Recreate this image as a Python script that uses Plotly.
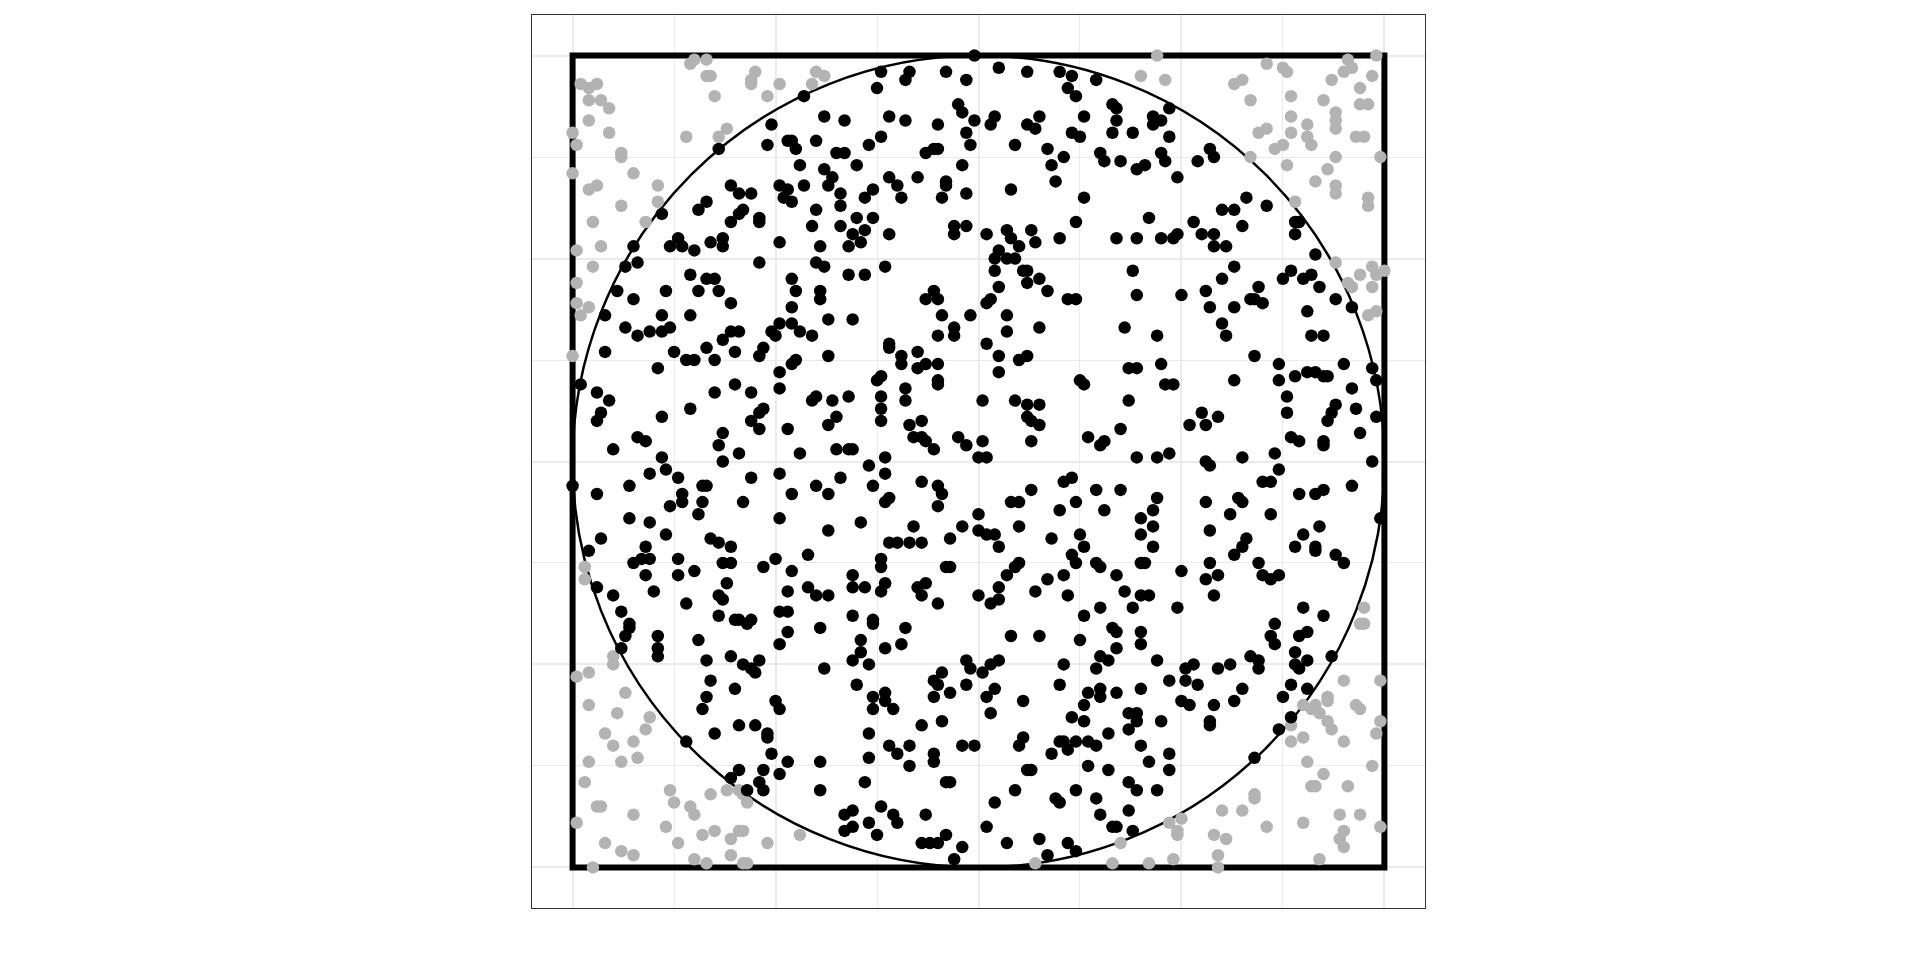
import plotly.graph_objects as go

# Monte Carlo points (data units, square spans -1..1)
inside_points = [
    # upper-left block
    (-0.43,0.90),(-0.38,0.85),(-0.51,0.83),(-0.52,0.78),(-0.47,0.79),(-0.46,0.79),(-0.45,0.77),(-0.40,0.79),
    (-0.35,0.76),(-0.64,0.77),(-0.44,0.73),(-0.38,0.72),(-0.36,0.70),(-0.43,0.68),(-0.37,0.68),(-0.49,0.68),
    (-0.47,0.67),(-0.48,0.65),(-0.46,0.64),(-0.61,0.68),(-0.59,0.66),(-0.56,0.66),(-0.67,0.64),(-0.69,0.62),
    (-0.58,0.62),(-0.59,0.61),(-0.54,0.60),(-0.54,0.59),(-0.61,0.59),(-0.40,0.62),(-0.41,0.58),(-0.78,0.61),
    (-0.74,0.55),(-0.73,0.53),(-0.70,0.52),(-0.66,0.54),(-0.63,0.55),(-0.63,0.53),(-0.76,0.53),(-0.49,0.54),
    (-0.39,0.53),(-0.85,0.53),(-0.87,0.48),(-0.84,0.49),(-0.54,0.49),(-0.40,0.49),(-0.38,0.48),(-0.71,0.46),
    (-0.67,0.45),(-0.65,0.45),(-0.64,0.42),(-0.69,0.42),(-0.46,0.45),(-0.45,0.42),(-0.39,0.42),(-0.39,0.40),
    (-0.89,0.42),(-0.85,0.40),(-0.77,0.42),(-0.61,0.39),(-0.46,0.38),(-0.92,0.36),(-0.78,0.36),(-0.71,0.36),
    (-0.37,0.35),
    # upper-middle block
    (-0.24,0.96),(-0.17,0.96),(-0.18,0.94),(-0.25,0.92),(-0.08,0.96),(-0.03,0.94),(-0.01,1.00),(0.05,0.97),
    (0.12,0.96),(0.20,0.96),(0.23,0.95),(0.22,0.92),(0.24,0.90),(0.29,0.94),(0.33,0.88),(0.34,0.87),
    (0.34,0.84),(0.33,0.81),(-0.33,0.84),(-0.22,0.85),(-0.18,0.84),(-0.10,0.83),(-0.05,0.88),(-0.04,0.86),
    (-0.01,0.84),(0.04,0.85),(0.03,0.83),(-0.03,0.81),(0.12,0.83),(0.14,0.82),(0.15,0.85),(-0.27,0.78),
    (-0.24,0.80),(-0.33,0.76),(-0.13,0.76),(-0.11,0.77),(-0.10,0.77),(-0.02,0.78),(0.09,0.78),(0.17,0.77),
    (0.21,0.75),(0.23,0.81),(0.25,0.80),(0.26,0.85),(0.30,0.76),(0.31,0.74),(0.35,0.74),(-0.30,0.73),
    (-0.04,0.73),(0.18,0.73),(0.19,0.69),(-0.22,0.70),(-0.20,0.68),(-0.19,0.65),(-0.15,0.70),(-0.08,0.69),
    (-0.08,0.68),(-0.09,0.65),(-0.03,0.66),(0.08,0.67),(0.26,0.65),(-0.34,0.66),(-0.34,0.63),(-0.28,0.65),
    (-0.26,0.67),(-0.30,0.60),(-0.26,0.60),(-0.28,0.57),(-0.31,0.56),(-0.32,0.53),(-0.29,0.54),(-0.34,0.58),
    (-0.22,0.56),(-0.06,0.58),(-0.06,0.56),(-0.03,0.58),(0.02,0.56),(0.07,0.57),(0.08,0.55),(0.10,0.53),
    (0.13,0.57),(0.14,0.54),(0.20,0.55),(0.24,0.59),(0.34,0.55),(0.05,0.52),(0.04,0.50),(0.07,0.50),
    (0.09,0.50),(0.11,0.47),(0.12,0.47),(0.04,0.47),(0.15,0.45),(0.05,0.43),(0.12,0.44),(0.17,0.42),
    (0.22,0.40),(0.24,0.40),(-0.23,0.48),(-0.32,0.46),(-0.28,0.46),(-0.13,0.40),(-0.11,0.42),(-0.10,0.40),
    (0.02,0.39),(0.03,0.40),(-0.02,0.36),(-0.09,0.36),(0.07,0.36),(-0.31,0.35),
    # upper-right block
    (0.47,0.87),(0.43,0.85),(0.45,0.84),(0.43,0.83),(0.38,0.81),(0.47,0.80),(0.57,0.77),(0.58,0.75),
    (0.54,0.74),(0.45,0.76),(0.46,0.74),(0.39,0.72),(0.41,0.73),(0.49,0.70),(0.66,0.65),(0.71,0.63),
    (0.60,0.62),(0.63,0.62),(0.65,0.58),(0.53,0.59),(0.42,0.60),(0.78,0.59),(0.79,0.59),(0.78,0.56),
    (0.39,0.55),(0.45,0.55),(0.48,0.55),(0.49,0.56),(0.55,0.56),(0.58,0.56),(0.58,0.53),(0.61,0.53),
    (0.83,0.51),(0.63,0.48),(0.60,0.45),(0.38,0.47),(0.39,0.41),(0.50,0.41),(0.56,0.42),(0.57,0.38),
    (0.63,0.38),(0.67,0.40),(0.68,0.40),(0.70,0.39),(0.69,0.43),(0.75,0.45),(0.77,0.47),(0.80,0.45),
    (0.82,0.46),(0.84,0.43),(0.88,0.40),(0.92,0.38),(0.81,0.37),
    # middle-left block
    (-0.87,0.33),(-0.84,0.31),(-0.81,0.32),(-0.78,0.32),(-0.76,0.33),(-0.63,0.30),(-0.61,0.32),(-0.59,0.32),
    (-0.51,0.32),(-0.50,0.31),(-0.49,0.34),(-0.46,0.34),(-0.44,0.32),(-0.41,0.31),(-0.92,0.27),(-0.75,0.27),
    (-0.72,0.25),(-0.70,0.25),(-0.67,0.28),(-0.65,0.25),(-0.60,0.27),(-0.54,0.26),(-0.53,0.28),(-0.79,0.23),
    (-0.37,0.26),(-0.46,0.24),(-0.45,0.25),(-0.49,0.22),(-0.98,0.19),(-0.94,0.17),(-0.91,0.15),(-0.93,0.12),
    (-0.94,0.10),(-0.78,0.11),(-0.71,0.13),(-0.65,0.17),(-0.60,0.19),(-0.56,0.17),(-0.54,0.12),(-0.53,0.13),
    (-0.56,0.10),(-0.54,0.08),(-0.49,0.18),(-0.47,0.08),(-0.41,0.15),(-0.40,0.16),(-0.36,0.15),(-0.35,0.11),
    (-0.37,0.09),(-0.44,0.02),(-0.35,0.03),(-0.84,0.06),(-0.82,0.05),(-0.90,0.03),(-0.63,0.07),(-0.64,0.04),
    (-0.63,0.00),(-0.59,0.02),(-0.78,0.01),(-0.77,-0.02),(-0.74,-0.04),(-0.81,-0.03),(-0.86,-0.06),(-1.00,-0.06),
    (-0.94,-0.08),(-0.68,-0.06),(-0.67,-0.06),(-0.73,-0.08),(-0.73,-0.10),(-0.68,-0.10),(-0.76,-0.11),(-0.58,-0.10),
    (-0.56,-0.04),(-0.49,-0.03),(-0.46,-0.08),(-0.40,-0.06),(-0.37,-0.08),(-0.34,-0.04),(-0.86,-0.14),(-0.81,-0.15),
    (-0.69,-0.13),(-0.49,-0.14),(-0.37,-0.17),(-0.93,-0.19),(-0.77,-0.18),(-0.82,-0.21),(-0.66,-0.19),(-0.64,-0.20),
    (-0.61,-0.21),(-0.96,-0.22),(-0.85,-0.25),(-0.83,-0.24),(-0.81,-0.24),(-0.74,-0.24),(-0.63,-0.25),(-0.61,-0.25),
    (-0.53,-0.26),(-0.50,-0.24),(-0.42,-0.23),(-0.46,-0.27),(-0.74,-0.28),(-0.70,-0.27),(-0.82,-0.28),(-0.62,-0.30),
    (-0.94,-0.31),(-0.80,-0.32),(-0.47,-0.32),(-0.42,-0.31),(-0.40,-0.33),(-0.37,-0.33),(-0.90,-0.33),(-0.64,-0.33),
    (-0.63,-0.34),
    # centre block
    (0.07,0.32),(0.15,0.33),(-0.06,0.33),(-0.06,0.31),(-0.10,0.31),(-0.22,0.29),(-0.22,0.28),(-0.19,0.26),
    (-0.19,0.24),(-0.15,0.27),(-0.13,0.24),(-0.15,0.23),(-0.10,0.24),(0.02,0.29),(0.05,0.26),(0.10,0.25),
    (0.12,0.26),(0.05,0.22),(-0.25,0.20),(-0.24,0.21),(-0.10,0.20),(-0.10,0.19),(0.25,0.20),(0.26,0.19),
    (-0.32,0.16),(-0.24,0.16),(-0.24,0.13),(-0.18,0.18),(-0.18,0.15),(-0.24,0.10),(-0.17,0.09),(-0.14,0.10),
    (-0.16,0.06),(-0.14,0.06),(-0.13,0.05),(-0.11,0.03),(-0.05,0.06),(-0.03,0.04),(0.01,0.15),(0.09,0.15),
    (0.12,0.14),(0.15,0.14),(0.12,0.11),(0.13,0.10),(0.15,0.09),(0.01,0.05),(0.00,0.01),(0.02,0.01),
    (0.13,0.05),(0.27,0.06),(0.30,0.04),(0.31,0.05),(0.35,0.08),(-0.32,0.03),(-0.31,0.03),(-0.23,0.01),
    (-0.27,-0.01),(-0.23,-0.03),(-0.26,-0.06),(-0.14,-0.05),(-0.10,-0.06),(-0.09,-0.08),(-0.23,-0.10),(-0.22,-0.09),
    (-0.10,-0.11),(-0.29,-0.15),(-0.16,-0.16),(-0.04,-0.16),(0.00,-0.13),(0.00,-0.17),(0.02,-0.18),(0.04,-0.18),
    (-0.07,-0.19),(0.05,-0.21),(-0.22,-0.20),(-0.20,-0.20),(-0.17,-0.20),(-0.14,-0.20),(0.08,-0.10),(0.10,-0.10),
    (0.13,-0.07),(0.10,-0.16),(0.20,-0.12),(0.21,-0.05),(0.23,-0.04),(0.24,-0.10),(0.29,-0.07),(0.31,-0.12),
    (0.35,-0.07),(0.18,-0.19),(0.25,-0.18),(0.26,-0.21),(0.23,-0.23),(0.24,-0.25),(0.10,-0.25),(0.09,-0.26),
    (0.07,-0.28),(-0.08,-0.26),(-0.07,-0.26),(-0.24,-0.24),(-0.24,-0.26),(-0.31,-0.28),(-0.31,-0.31),(-0.28,-0.31),
    (-0.23,-0.30),(-0.24,-0.32),(-0.15,-0.31),(-0.13,-0.30),(-0.14,-0.33),(0.05,-0.31),(0.14,-0.32),(0.17,-0.29),
    (0.21,-0.28),(0.29,-0.25),(0.30,-0.26),(0.34,-0.28),(0.22,-0.33),(0.00,-0.33),
    # middle-right block
    (0.36,0.33),(0.44,0.31),(0.60,0.34),(0.61,0.31),(0.82,0.31),(0.85,0.31),(0.68,0.26),(0.45,0.24),
    (0.37,0.23),(0.39,0.23),(0.46,0.19),(0.48,0.19),(0.37,0.15),(0.63,0.20),(0.74,0.24),(0.74,0.20),
    (0.78,0.21),(0.81,0.22),(0.83,0.22),(0.85,0.21),(0.86,0.21),(0.90,0.24),(0.97,0.23),(0.98,0.20),
    (0.92,0.18),(0.76,0.16),(0.76,0.12),(0.88,0.14),(0.87,0.12),(0.86,0.10),(0.93,0.13),(0.98,0.11),
    (0.94,0.07),(0.55,0.12),(0.59,0.11),(0.52,0.09),(0.56,0.09),(0.77,0.06),(0.79,0.05),(0.85,0.05),
    (0.85,0.04),(0.39,0.01),(0.44,0.01),(0.47,0.02),(0.56,0.00),(0.57,-0.01),(0.65,0.01),(0.73,0.02),
    (0.74,-0.02),(0.70,-0.05),(0.72,-0.05),(0.97,0.00),(0.92,-0.06),(0.79,-0.08),(0.83,-0.08),(0.85,-0.07),
    (0.44,-0.09),(0.43,-0.12),(0.40,-0.14),(0.43,-0.16),(0.40,-0.18),(0.43,-0.21),(0.56,-0.10),(0.64,-0.09),
    (0.65,-0.10),(0.62,-0.13),(0.72,-0.13),(0.57,-0.17),(0.99,-0.14),(0.84,-0.16),(0.80,-0.18),(0.78,-0.21),
    (0.83,-0.21),(0.83,-0.22),(0.88,-0.23),(0.90,-0.25),(0.66,-0.19),(0.65,-0.21),(0.63,-0.23),(0.57,-0.25),
    (0.50,-0.27),(0.56,-0.29),(0.59,-0.28),(0.69,-0.25),(0.70,-0.28),(0.72,-0.29),(0.74,-0.28),(0.40,-0.25),
    (0.41,-0.25),(0.36,-0.32),(0.40,-0.33),(0.42,-0.33),(0.58,-0.33),
    # lower-left block
    (-0.72,-0.35),(-0.64,-0.38),(-0.88,-0.37),(-0.86,-0.40),(-0.86,-0.41),(-0.87,-0.43),(-0.88,-0.46),(-0.79,-0.43),
    (-0.79,-0.46),(-0.79,-0.48),(-0.69,-0.44),(-0.67,-0.49),(-0.61,-0.48),(-0.60,-0.39),(-0.59,-0.39),(-0.57,-0.40),
    (-0.56,-0.39),(-0.49,-0.37),(-0.47,-0.37),(-0.47,-0.42),(-0.49,-0.45),(-0.39,-0.41),(-0.38,-0.51),(-0.66,-0.54),
    (-0.60,-0.56),(-0.58,-0.50),(-0.56,-0.51),(-0.55,-0.52),(-0.54,-0.49),(-0.67,-0.58),(-0.68,-0.61),(-0.50,-0.59),
    (-0.49,-0.61),(-0.55,-0.65),(-0.59,-0.65),(-0.65,-0.67),(-0.52,-0.67),(-0.52,-0.68),(-0.72,-0.69),(-0.51,-0.72),
    (-0.47,-0.74),(-0.39,-0.74),(-0.59,-0.76),(-0.61,-0.78),(-0.53,-0.76),(-0.54,-0.79),(-0.49,-0.77),(-0.57,-0.81),
    (-0.53,-0.81),(-0.39,-0.81),
    # lower-middle block
    (-0.10,-0.35),(0.03,-0.35),(0.05,-0.34),(-0.31,-0.38),(-0.26,-0.39),(-0.26,-0.40),(-0.18,-0.41),(-0.29,-0.44),
    (-0.19,-0.45),(-0.23,-0.46),(-0.29,-0.47),(-0.31,-0.49),(-0.27,-0.50),(0.08,-0.43),(0.15,-0.43),(0.26,-0.38),
    (0.30,-0.36),(0.33,-0.41),(0.34,-0.42),(0.25,-0.44),(0.34,-0.46),(0.30,-0.48),(0.32,-0.49),(0.29,-0.51),
    (0.21,-0.50),(0.20,-0.55),(0.27,-0.57),(0.30,-0.56),(0.30,-0.58),(0.34,-0.57),(0.26,-0.60),(0.23,-0.63),
    (0.26,-0.64),(-0.03,-0.49),(-0.02,-0.51),(0.01,-0.52),(0.03,-0.50),(0.05,-0.49),(-0.09,-0.52),(-0.11,-0.54),
    (-0.10,-0.55),(-0.11,-0.58),(-0.07,-0.57),(-0.03,-0.55),(0.04,-0.56),(0.02,-0.58),(0.03,-0.62),(0.11,-0.59),
    (-0.30,-0.55),(-0.26,-0.58),(-0.23,-0.57),(-0.23,-0.59),(-0.26,-0.61),(-0.21,-0.61),(-0.14,-0.65),(-0.09,-0.64),
    (-0.27,-0.67),(-0.22,-0.70),(-0.17,-0.70),(-0.20,-0.72),(-0.27,-0.73),(-0.17,-0.75),(-0.11,-0.72),(-0.11,-0.74),
    (-0.04,-0.70),(-0.01,-0.70),(0.10,-0.70),(0.11,-0.68),(0.18,-0.72),(0.20,-0.69),(0.21,-0.69),(0.22,-0.71),
    (0.24,-0.69),(0.27,-0.69),(0.29,-0.70),(0.32,-0.67),(0.27,-0.75),(0.32,-0.76),(0.12,-0.76),(0.13,-0.76),
    (-0.28,-0.79),(-0.08,-0.79),(-0.07,-0.79),(0.09,-0.81),(0.04,-0.84),(0.19,-0.83),(0.20,-0.84),(0.24,-0.81),
    (0.29,-0.83),(-0.24,-0.85),(-0.21,-0.87),(-0.20,-0.89),(-0.31,-0.86),(-0.27,-0.89),(-0.31,-0.90),(-0.33,-0.91),
    (-0.33,-0.87),(-0.25,-0.92),(-0.13,-0.87),(-0.08,-0.92),(-0.14,-0.94),(-0.12,-0.94),(-0.10,-0.94),(-0.04,-0.95),
    (-0.06,-0.98),(0.02,-0.90),(0.07,-0.94),(0.15,-0.93),(0.17,-0.97),(0.22,-0.94),(0.24,-0.96),(0.30,-0.87),
    (0.33,-0.90),(0.34,-0.90),
    # lower-right block
    (0.38,-0.36),(0.49,-0.36),(0.80,-0.36),(0.85,-0.38),(0.73,-0.40),(0.72,-0.43),(0.73,-0.45),(0.79,-0.43),
    (0.81,-0.42),(0.78,-0.47),(0.81,-0.49),(0.87,-0.48),(0.67,-0.48),(0.69,-0.49),(0.69,-0.51),(0.59,-0.51),
    (0.62,-0.50),(0.51,-0.51),(0.53,-0.50),(0.51,-0.54),(0.54,-0.55),(0.47,-0.54),(0.44,-0.49),(0.40,-0.42),
    (0.40,-0.45),(0.40,-0.56),(0.50,-0.59),(0.52,-0.60),(0.58,-0.60),(0.63,-0.59),(0.65,-0.56),(0.75,-0.58),
    (0.77,-0.55),(0.78,-0.50),(0.79,-0.51),(0.81,-0.56),(0.77,-0.63),(0.74,-0.66),(0.68,-0.73),(0.57,-0.64),
    (0.57,-0.65),(0.37,-0.62),(0.39,-0.62),(0.39,-0.64),(0.37,-0.66),(0.45,-0.64),(0.40,-0.70),(0.42,-0.74),
    (0.47,-0.72),(0.47,-0.76),(0.37,-0.79),(0.39,-0.81),(0.44,-0.81),(0.37,-0.86),(0.38,-0.91),
]

outside_points = [
    # top-left corner
    (-0.98,0.93),(-0.96,0.92),(-0.94,0.93),(-0.96,0.89),(-0.93,0.89),(-0.91,0.87),(-0.96,0.84),(-1.00,0.81),
    (-0.99,0.78),(-0.91,0.81),(-0.88,0.76),(-0.88,0.75),(-1.00,0.71),(-0.96,0.67),(-0.94,0.68),(-0.85,0.71),
    (-0.79,0.68),(-0.88,0.63),(-0.79,0.64),(-0.82,0.59),(-0.95,0.59),(-0.93,0.53),(-0.99,0.52),(-0.95,0.48),
    (-0.99,0.44),(-0.99,0.39),(-0.96,0.38),(-0.98,0.36),(-0.71,0.98),(-0.70,0.99),(-0.67,0.99),(-0.67,0.95),
    (-0.66,0.95),(-0.65,0.90),(-0.55,0.96),(-0.56,0.94),(-0.56,0.93),(-0.52,0.90),(-0.49,0.93),(-0.40,0.96),
    (-0.38,0.95),(-0.41,0.93),(-0.72,0.80),(-0.62,0.82),(-0.64,0.80),
    # top-right corner
    (0.44,1.00),(0.40,0.95),(0.46,0.94),(0.63,0.93),(0.65,0.94),(0.67,0.89),(0.71,0.98),(0.75,0.97),
    (0.76,0.96),(0.77,0.90),(0.77,0.85),(0.77,0.81),(0.69,0.81),(0.71,0.82),(0.73,0.77),(0.75,0.78),
    (0.81,0.83),(0.81,0.80),(0.82,0.78),(0.76,0.73),(0.67,0.75),(0.78,0.64),(0.83,0.69),(0.86,0.72),
    (0.88,0.75),(0.88,0.68),(0.88,0.66),(0.85,0.89),(0.87,0.94),(0.90,0.96),(0.91,0.99),(0.92,0.97),
    (0.94,0.92),(0.94,0.88),(0.96,0.88),(0.97,0.95),(0.98,1.00),(0.88,0.86),(0.88,0.84),(0.88,0.82),
    (0.93,0.80),(0.95,0.80),(0.99,0.75),(0.96,0.65),(0.96,0.63),(0.88,0.49),(0.94,0.46),(0.91,0.44),
    (0.92,0.43),(0.97,0.48),(0.98,0.46),(1.00,0.47),(0.97,0.43),(0.96,0.36),(0.98,0.37),
    # left edge
    (-1.00,0.26),(-0.97,-0.26),(-0.97,-0.29),
    # bottom-left corner
    (-0.90,-0.48),(-0.90,-0.50),(-0.99,-0.53),(-0.96,-0.52),(-0.87,-0.57),(-0.96,-0.60),(-0.89,-0.62),(-0.81,-0.63),
    (-0.82,-0.66),(-0.92,-0.67),(-0.90,-0.70),(-0.85,-0.69),(-0.84,-0.73),(-0.88,-0.74),(-0.96,-0.74),(-0.97,-0.79),
    (-0.94,-0.85),(-0.93,-0.85),(-0.85,-0.87),(-0.99,-0.89),(-0.76,-0.81),(-0.75,-0.84),(-0.71,-0.85),(-0.70,-0.87),
    (-0.66,-0.82),(-0.62,-0.81),(-0.59,-0.81),(-0.58,-0.82),(-0.57,-0.84),(-0.77,-0.90),(-0.74,-0.94),(-0.68,-0.92),
    (-0.65,-0.91),(-0.61,-0.93),(-0.59,-0.91),(-0.58,-0.91),(-0.52,-0.94),(-0.44,-0.92),(-0.92,-0.94),(-0.88,-0.96),
    (-0.85,-0.97),(-0.70,-0.98),(-0.67,-0.99),(-0.61,-0.97),(-0.58,-0.99),(-0.57,-0.99),(-0.95,-1.00),
    # bottom edge
    (0.14,-0.99),(0.33,-0.99),(0.35,-0.94),
    # bottom-right corner
    (0.95,-0.36),(0.94,-0.40),(0.95,-0.40),(0.90,-0.54),(0.99,-0.54),(0.86,-0.58),(0.86,-0.59),(0.80,-0.60),
    (0.82,-0.61),(0.83,-0.60),(0.84,-0.62),(0.86,-0.64),(0.87,-0.66),(0.77,-0.65),(0.77,-0.69),(0.80,-0.68),
    (0.90,-0.69),(0.93,-0.60),(0.94,-0.61),(0.99,-0.64),(0.98,-0.67),(0.81,-0.74),(0.85,-0.77),(0.82,-0.80),
    (0.83,-0.80),(0.91,-0.80),(0.97,-0.75),(0.68,-0.82),(0.68,-0.83),(0.60,-0.86),(0.65,-0.86),(0.47,-0.89),
    (0.50,-0.88),(0.49,-0.91),(0.49,-0.92),(0.58,-0.92),(0.61,-0.93),(0.71,-0.90),(0.80,-0.89),(0.89,-0.87),
    (0.94,-0.87),(0.99,-0.90),(0.90,-0.91),(0.89,-0.93),(0.90,-0.95),(0.59,-0.97),(0.59,-1.00),(0.48,-0.98),
    (0.42,-0.99),(0.84,-0.98),
]

RADIUS = 1.0
AXIS_LIMIT = 1.1
major_breaks = [-1.0, -0.5, 0.0, 0.5, 1.0]
minor_breaks = [-0.75, -0.25, 0.25, 0.75]

inside_x = [p[0] for p in inside_points]
inside_y = [p[1] for p in inside_points]
outside_x = [p[0] for p in outside_points]
outside_y = [p[1] for p in outside_points]

fig = go.Figure()
fig.add_trace(go.Scatter(x=outside_x, y=outside_y, mode="markers",
                         marker=dict(color="#B3B3B3", size=12.5, line=dict(width=0)),
                         hoverinfo="skip", showlegend=False))
fig.add_trace(go.Scatter(x=inside_x, y=inside_y, mode="markers",
                         marker=dict(color="#000000", size=12.5, line=dict(width=0)),
                         hoverinfo="skip", showlegend=False))

fig.add_shape(type="rect", xref="x", yref="y",
              x0=-RADIUS, y0=-RADIUS, x1=RADIUS, y1=RADIUS,
              line=dict(color="black", width=6), layer="between")
fig.add_shape(type="circle", xref="x", yref="y",
              x0=-RADIUS, y0=-RADIUS, x1=RADIUS, y1=RADIUS,
              line=dict(color="black", width=2.5), layer="between")

axis_style = dict(
    range=[-AXIS_LIMIT, AXIS_LIMIT],
    tickmode="array", tickvals=major_breaks,
    showticklabels=False, ticks="",
    showgrid=True, gridcolor="#EBEBEB", gridwidth=1.6,
    zeroline=False,
    showline=True, mirror=True, linecolor="#333333", linewidth=1,
    minor=dict(tickmode="array", tickvals=minor_breaks, showgrid=True,
               gridcolor="#EBEBEB", gridwidth=1.2, ticks=""),
    fixedrange=True,
)

fig.update_layout(
    width=1920, height=960, autosize=False,
    margin=dict(l=532, r=495, t=15, b=52),
    plot_bgcolor="white", paper_bgcolor="white",
    xaxis=axis_style, yaxis=axis_style,
    showlegend=False,
)

fig.write_html("out.html")
